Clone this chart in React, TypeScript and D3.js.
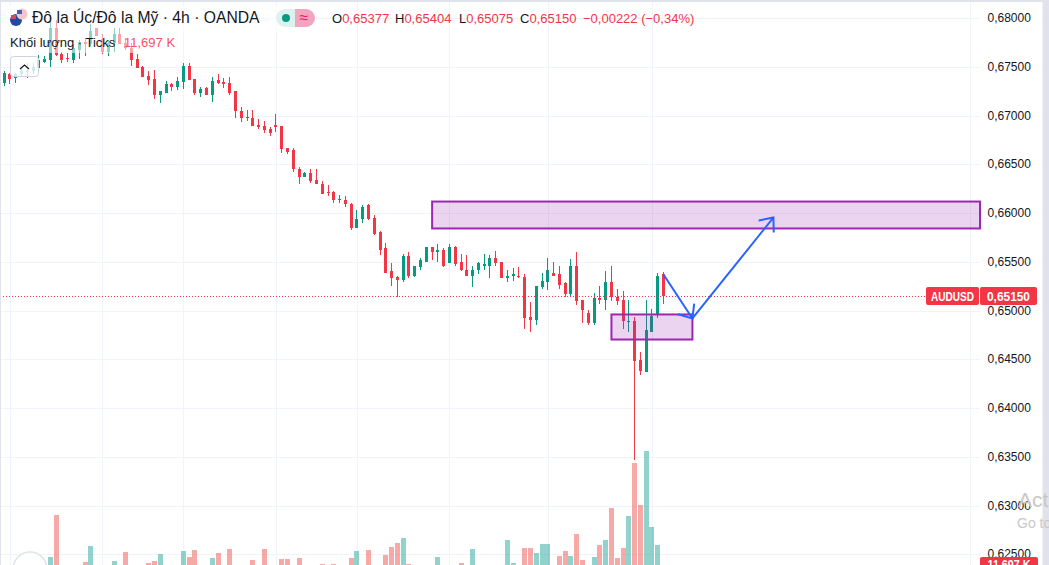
import React, { useRef, useEffect } from 'react';
import * as d3 from 'd3';

const opens = [
  0.67343, 0.67436, 0.67395, 0.67436, 0.67457, 0.67467, 0.67488, 0.67559, 0.6758, 0.67908,
  0.67641, 0.676, 0.6758, 0.67682, 0.67764, 0.67734, 0.67898, 0.67795, 0.67662, 0.67754,
  0.67846, 0.67754, 0.67703, 0.6759, 0.67508, 0.67415, 0.67385, 0.67221, 0.67241, 0.67333,
  0.67303, 0.67354, 0.67518, 0.67385, 0.67241, 0.67292, 0.67211, 0.67374, 0.67354, 0.67343,
  0.67252, 0.67047, 0.66995, 0.66985, 0.66913, 0.66893, 0.66872, 0.66913, 0.66903, 0.66677,
  0.66647, 0.66462, 0.6638, 0.66421, 0.66339, 0.66308, 0.66226, 0.66216, 0.66144, 0.66144,
  0.66103, 0.65847, 0.65939, 0.66083, 0.65959, 0.65806, 0.65642, 0.65406, 0.65354, 0.65323,
  0.6556, 0.65364, 0.65447, 0.65508, 0.65652, 0.65601, 0.65631, 0.65488, 0.65662, 0.65498,
  0.65426, 0.65364, 0.65416, 0.65467, 0.65457, 0.65549, 0.65498, 0.65334, 0.65364, 0.65364,
  0.65354, 0.64934, 0.64913, 0.65242, 0.65303, 0.65395, 0.65375, 0.65283, 0.6517, 0.65457,
  0.65118, 0.64975, 0.64882, 0.65129, 0.65118, 0.65303, 0.65149, 0.65118, 0.64893, 0.64903,
  0.64493, 0.6437, 0.6479, 0.64965, 0.65377,
];
const highs = [
  0.67457, 0.67446, 0.67446, 0.67498, 0.67549, 0.67549, 0.67631, 0.67621, 0.68, 0.6799,
  0.67662, 0.67651, 0.67734, 0.67785, 0.67805, 0.67939, 0.67898, 0.67846, 0.67775, 0.67898,
  0.67898, 0.67805, 0.67754, 0.67641, 0.67518, 0.67457, 0.67477, 0.67262, 0.67364, 0.67343,
  0.67405, 0.67539, 0.67539, 0.67385, 0.67303, 0.67303, 0.67405, 0.67436, 0.67395, 0.67405,
  0.67252, 0.67088, 0.67057, 0.67067, 0.66965, 0.66954, 0.66883, 0.67016, 0.66903, 0.66677,
  0.66677, 0.66482, 0.66431, 0.66452, 0.66452, 0.66329, 0.66288, 0.66236, 0.66195, 0.66175,
  0.66113, 0.66041, 0.66083, 0.66093, 0.6599, 0.65826, 0.65693, 0.65488, 0.65364, 0.6558,
  0.65601, 0.65467, 0.65549, 0.65662, 0.65662, 0.65683, 0.65642, 0.65683, 0.65672, 0.6558,
  0.6557, 0.65457, 0.65508, 0.6558, 0.6557, 0.65621, 0.65498, 0.65416, 0.65437, 0.65447,
  0.65375, 0.65088, 0.65262, 0.65395, 0.65549, 0.65508, 0.65467, 0.65293, 0.65529, 0.65601,
  0.65118, 0.65006, 0.6518, 0.65262, 0.65406, 0.65467, 0.65231, 0.65201, 0.65118, 0.64934,
  0.64575, 0.65118, 0.65016, 0.65395, 0.65404,
];
const lows = [
  0.67313, 0.67333, 0.67343, 0.67405, 0.67395, 0.67436, 0.67488, 0.67539, 0.67508, 0.67611,
  0.67539, 0.67559, 0.67539, 0.6759, 0.67621, 0.67723, 0.67826, 0.67641, 0.67621, 0.67662,
  0.67744, 0.67682, 0.67518, 0.67488, 0.67405, 0.67323, 0.6718, 0.67138, 0.67241, 0.67252,
  0.67272, 0.67282, 0.67374, 0.67211, 0.672, 0.67211, 0.67149, 0.67333, 0.67292, 0.67211,
  0.66975, 0.66944, 0.66954, 0.66893, 0.66872, 0.66831, 0.668, 0.66841, 0.66626, 0.66606,
  0.66431, 0.66308, 0.6638, 0.66318, 0.66298, 0.66205, 0.66185, 0.66113, 0.66113, 0.66072,
  0.65836, 0.65847, 0.65898, 0.65929, 0.65775, 0.6557, 0.65395, 0.65252, 0.65139, 0.65293,
  0.65334, 0.65354, 0.65426, 0.65508, 0.65519, 0.65498, 0.65447, 0.65488, 0.65467, 0.65406,
  0.65364, 0.65242, 0.65385, 0.65426, 0.65334, 0.65467, 0.65334, 0.65293, 0.65313, 0.65344,
  0.64821, 0.6479, 0.64862, 0.65231, 0.65211, 0.65364, 0.65231, 0.65149, 0.65139, 0.65057,
  0.64882, 0.64862, 0.64862, 0.65077, 0.65006, 0.65108, 0.65067, 0.64821, 0.6479, 0.63477,
  0.64349, 0.6437, 0.6479, 0.64924, 0.65075,
];
const closes = [
  0.67446, 0.67385, 0.67436, 0.67457, 0.67467, 0.67508, 0.6757, 0.6759, 0.67908, 0.67631,
  0.6758, 0.6759, 0.67693, 0.67764, 0.67734, 0.67877, 0.67826, 0.67662, 0.67754, 0.67846,
  0.67744, 0.67693, 0.6758, 0.67488, 0.67405, 0.67374, 0.67221, 0.67252, 0.67333, 0.67303,
  0.67364, 0.67518, 0.67374, 0.67241, 0.67282, 0.67211, 0.67364, 0.67343, 0.67333, 0.67241,
  0.67047, 0.66985, 0.66985, 0.66893, 0.66883, 0.66862, 0.66831, 0.66883, 0.66667, 0.66636,
  0.66462, 0.6638, 0.66421, 0.66329, 0.66298, 0.66205, 0.66216, 0.66134, 0.66154, 0.66093,
  0.65847, 0.65949, 0.66072, 0.65949, 0.65795, 0.65631, 0.65395, 0.65344, 0.65323, 0.6556,
  0.65364, 0.65467, 0.65519, 0.65652, 0.65601, 0.65631, 0.65457, 0.65662, 0.65478, 0.65416,
  0.65364, 0.65416, 0.65488, 0.65478, 0.65549, 0.65488, 0.65334, 0.65364, 0.65375, 0.65354,
  0.64924, 0.64913, 0.65252, 0.65313, 0.65416, 0.65364, 0.65272, 0.6517, 0.65457, 0.65108,
  0.65006, 0.64882, 0.65129, 0.65118, 0.65303, 0.65139, 0.65098, 0.64893, 0.64903, 0.64483,
  0.6438, 0.64801, 0.64954, 0.65364, 0.6515,
];
// in thousands of ticks, the small ones sit under the bottom edge of the window
const volumes = [
  9.2, 7.4, 8.1, 6.8, 7.5, 6.2, 8.8, 7.1, 14.8, 29.2,
  9.6, 8.3, 10.4, 9.1, 13.1, 18.6, 7.9, 8.8, 9.9, 13.4,
  10.2, 16.5, 11.2, 9.7, 8.4, 12.7, 13.4, 15.8, 10.1, 8.2,
  9.3, 16.9, 14.8, 17.2, 10.5, 11.4, 14.4, 16.2, 9.8, 17.5,
  11.6, 8.9, 7.6, 13.8, 10.3, 17.5, 9.4, 11.1, 14.1, 14.1,
  11.7, 14.4, 8.0, 10.6, 9.2, 12.4, 8.7, 12.4, 7.3, 10.8,
  14.4, 16.9, 10.9, 17.2, 11.3, 11.8, 15.5, 18.2, 19.6, 21.3,
  12.4, 10.7, 9.5, 11.0, 8.6, 14.8, 10.0, 11.5, 9.0, 12.7,
  11.9, 17.5, 8.5, 7.7, 9.8, 11.2, 10.4, 20.6, 12.7, 9.1,
  17.9, 17.9, 16.2, 19.3, 19.3, 11.6, 15.1, 16.9, 15.1, 22.7,
  13.8, 10.6, 14.8, 18.9, 20.6, 31.6, 14.4, 17.9, 28.9, 47.1,
  32.7, 51.3, 25.1, 18.9, 11.697,
];

const priceTicks = [0.68, 0.675, 0.67, 0.665, 0.66, 0.655, 0.65, 0.645, 0.64, 0.635, 0.63, 0.625];
const timeGrid = [1, 17, 31, 47, 61, 77, 94, 112, 167];
const lastPrice = 0.6515;

// drawings on the chart, as [bar index, price]
const upperZone = { from: 74, top: 0.66123, bottom: 0.65847 };
const lowerZone = { from: 105, to: 119, top: 0.64965, bottom: 0.64708 };
const arrowLegs = [
  [[114, 0.65375], [119, 0.64924]],
  [[119, 0.64924], [133, 0.65959]],
];

const WIDTH = 1049;
const HEIGHT = 565;
const PANE_RIGHT = 980;
const GREEN = '#089981';
const RED = '#f23645';
const GRID = '#f0f3fa';
const INK = '#131722';
const UI_FONT = '"Liberation Sans", Arial, sans-serif';
const fmt = (p) => d3.format('.5f')(p).replace('.', ',');

export default function App() {
  const ref = useRef(null);

  useEffect(() => {
    const svg = d3.select(ref.current);
    svg.selectAll('*').remove();
    svg.attr('font-family', UI_FONT);

    const x = d3.scaleLinear().domain([0, 114]).range([4.1, 663.5]);
    const y = d3.scaleLinear().domain([0.68, 0.625]).range([18.55, 554.8]);
    const vol = d3.scaleLinear().domain([0, 51.3]).range([600, 451]);

    svg.append('rect').attr('width', WIDTH).attr('height', HEIGHT).attr('fill', '#fff');

    // grid
    const grid = svg.append('g').attr('stroke', GRID).attr('shape-rendering', 'crispEdges');
    grid.selectAll('.h').data(priceTicks).enter().append('line')
      .attr('x1', 0).attr('x2', PANE_RIGHT)
      .attr('y1', (d) => Math.floor(y(d)) + 0.5).attr('y2', (d) => Math.floor(y(d)) + 0.5);
    grid.selectAll('.v').data(timeGrid).enter().append('line')
      .attr('y1', 0).attr('y2', HEIGHT)
      .attr('x1', (d) => Math.round(x(d)) + 0.5).attr('x2', (d) => Math.round(x(d)) + 0.5);

    const bars = opens.map((open, i) => ({
      i, open, high: highs[i], low: lows[i], close: closes[i], volume: volumes[i],
      up: closes[i] >= open,
    }));
    const px = (i) => Math.floor(x(i));

    // volume
    svg.append('g').attr('shape-rendering', 'crispEdges')
      .selectAll('rect').data(bars).enter().append('rect')
      .attr('x', (d) => px(d.i) - 2)
      .attr('width', 5)
      .attr('y', (d) => vol(d.volume))
      .attr('height', (d) => vol(0) - vol(d.volume))
      .attr('fill', (d) => (d.up ? '#26a69a' : '#ef5350'))
      .attr('fill-opacity', 0.5);

    // candles
    const candles = svg.append('g').attr('shape-rendering', 'crispEdges');
    candles.selectAll('.wick').data(bars).enter().append('rect')
      .attr('x', (d) => px(d.i))
      .attr('width', 1)
      .attr('y', (d) => Math.round(y(d.high)))
      .attr('height', (d) => Math.max(1, Math.round(y(d.low)) - Math.round(y(d.high))))
      .attr('fill', (d) => (d.up ? GREEN : RED));
    candles.selectAll('.body').data(bars).enter().append('rect')
      .attr('x', (d) => px(d.i) - 1)
      .attr('width', 3)
      .attr('y', (d) => Math.round(y(Math.max(d.open, d.close))))
      .attr('height', (d) => Math.max(1, Math.round(y(Math.min(d.open, d.close))) - Math.round(y(Math.max(d.open, d.close)))))
      .attr('fill', (d) => (d.up ? GREEN : RED));

    // last price line
    svg.append('line')
      .attr('x1', 0).attr('x2', 926)
      .attr('y1', Math.floor(y(lastPrice)) + 0.5).attr('y2', Math.floor(y(lastPrice)) + 0.5)
      .attr('stroke', RED).attr('stroke-dasharray', '1 2');

    // drawings
    const zone = (x0, x1, top, bottom) =>
      svg.append('rect')
        .attr('x', x0).attr('width', x1 - x0)
        .attr('y', y(top)).attr('height', y(bottom) - y(top))
        .attr('fill', '#9c27b0').attr('fill-opacity', 0.2)
        .attr('stroke', '#9c27b0').attr('stroke-width', 2);
    zone(x(upperZone.from), PANE_RIGHT, upperZone.top, upperZone.bottom);
    zone(x(lowerZone.from), x(lowerZone.to), lowerZone.top, lowerZone.bottom);

    const arrows = svg.append('g').attr('fill', 'none').attr('stroke', '#2962ff').attr('stroke-width', 2);
    const line = d3.line().x((d) => x(d[0])).y((d) => y(d[1]));
    arrowLegs.forEach((leg) => {
      arrows.append('path').attr('d', line(leg));
      const [a, b] = leg;
      const tx = x(b[0]);
      const ty = y(b[1]);
      const angle = Math.atan2(ty - y(a[1]), tx - x(a[0]));
      const barb = (da) => [tx - 15 * Math.cos(angle + da), ty - 15 * Math.sin(angle + da)];
      arrows.append('path').attr('d', d3.line()([barb(0.7), [tx, ty], barb(-0.7)]));
    });

    // fade under the legend rows
    svg.append('rect').attr('x', 4).attr('y', 5).attr('width', 302).attr('height', 28)
      .attr('fill', '#fff').attr('fill-opacity', 0.55);
    svg.append('rect').attr('x', 4).attr('y', 33).attr('width', 174).attr('height', 20)
      .attr('fill', '#fff').attr('fill-opacity', 0.55);

    // axis labels
    svg.append('g').selectAll('text').data(priceTicks).enter().append('text')
      .attr('x', 987.5).attr('y', (d) => y(d) + 3.5)
      .attr('font-size', 12).attr('fill', INK)
      .text(fmt);

    // price tags
    const tag = (x0, x1, y0, y1, label, cx, cy, w) => {
      svg.append('rect').attr('x', x0).attr('y', y0).attr('width', x1 - x0).attr('height', y1 - y0)
        .attr('rx', 2).attr('fill', RED);
      const t = svg.append('text').attr('x', cx).attr('y', cy).attr('text-anchor', 'middle')
        .attr('font-size', 12).attr('font-weight', 600).attr('fill', '#fff').text(label);
      if (w) t.attr('textLength', w).attr('lengthAdjust', 'spacingAndGlyphs');
    };
    tag(926, 979, 287, 305, 'AUDUSD', 952.5, 300.5, 43);
    tag(980, 1037, 287, 305, fmt(lastPrice), 1008.5, 300.5, 43);
    tag(980, 1038, 557, 575, '11,697 K', 1009, 569, 43);

    // window chrome
    svg.append('rect').attr('x', 1042.5).attr('y', 0).attr('width', 7).attr('height', HEIGHT).attr('fill', '#e0e3eb');
    svg.append('rect').attr('x', 0).attr('y', 0).attr('width', WIDTH).attr('height', 2).attr('fill', '#e0e3eb');
    svg.append('rect').attr('x', 0).attr('y', 0).attr('width', 1).attr('height', HEIGHT).attr('fill', '#e0e3eb');

    // watermark
    svg.append('text').attr('x', 1018).attr('y', 507).attr('font-size', 21).attr('fill', '#c8c8c8').text('Acti');
    svg.append('text').attr('x', 1017).attr('y', 528).attr('font-size', 14).attr('fill', '#c8c8c8').text('Go to');

    // legend
    const flags = svg.append('g');
    flags.append('circle').attr('cx', 16).attr('cy', 20).attr('r', 6).attr('fill', '#1f4aa0');
    flags.append('rect').attr('x', 11).attr('y', 15).attr('width', 5).attr('height', 4).attr('fill', '#d8475a');
    flags.append('circle').attr('cx', 22).attr('cy', 14).attr('r', 5.5).attr('fill', '#f3c6cb');
    flags.append('rect').attr('x', 17).attr('y', 10).attr('width', 5).attr('height', 4).attr('fill', '#3f62b5');

    svg.append('text').attr('x', 32).attr('y', 23).attr('font-size', 15.7).attr('fill', INK)
      .text('Đô la Úc/Đô la Mỹ · 4h · OANDA');

    svg.append('path').attr('d', 'M285,9h10v18h-10a9,9 0 0 1 0,-18z').attr('fill', '#dcf2ee');
    svg.append('path').attr('d', 'M295,9h11a9,9 0 0 1 0,18h-11z').attr('fill', '#f2a5bf');
    svg.append('circle').attr('cx', 286).attr('cy', 18).attr('r', 4).attr('fill', GREEN);
    svg.append('text').attr('x', 304).attr('y', 23).attr('text-anchor', 'middle')
      .attr('font-size', 16).attr('fill', '#e91e63').text('≈');

    const ohlc = [
      ['O', 0.65377, 332],
      ['H', 0.65404, 395],
      ['L', 0.65075, 459],
      ['C', 0.6515, 520],
    ];
    ohlc.forEach(([k, v, lx]) => {
      const t = svg.append('text').attr('x', lx).attr('y', 23).attr('font-size', 13).attr('fill', INK);
      t.append('tspan').text(k);
      t.append('tspan').attr('fill', RED).text(fmt(v));
    });
    svg.append('text').attr('x', 583).attr('y', 23).attr('font-size', 13).attr('fill', RED)
      .text('−0,00222 (−0,34%)');

    svg.append('text').attr('x', 10).attr('y', 47).attr('font-size', 13).attr('fill', INK)
      .text('Khối lượng · Ticks');
    svg.append('text').attr('x', 124).attr('y', 47).attr('font-size', 13).attr('fill', '#f7525f')
      .text('11,697 K');

    // collapse button
    svg.append('rect').attr('x', 10.5).attr('y', 56.5).attr('width', 28).attr('height', 20).attr('rx', 3)
      .attr('fill', '#fff').attr('fill-opacity', 0.8).attr('stroke', '#cfd2de');
    svg.append('path').attr('d', 'M20,69l4.5,-4l4.5,4').attr('fill', 'none').attr('stroke', INK).attr('stroke-width', 1.2);

    // logo peeking at the bottom
    svg.append('circle').attr('cx', 30).attr('cy', 569).attr('r', 17).attr('fill', '#fff').attr('stroke', '#e0e3eb').attr('stroke-width', 1.5);
    svg.append('text').attr('x', 30).attr('y', 575).attr('text-anchor', 'middle').attr('font-size', 15).attr('font-weight', 700).attr('fill', INK).text('TV');
  }, []);

  return (
    <svg
      ref={ref}
      width={WIDTH}
      height={HEIGHT}
      style={{ position: 'fixed', top: 0, left: 0, display: 'block' }}
    />
  );
}
